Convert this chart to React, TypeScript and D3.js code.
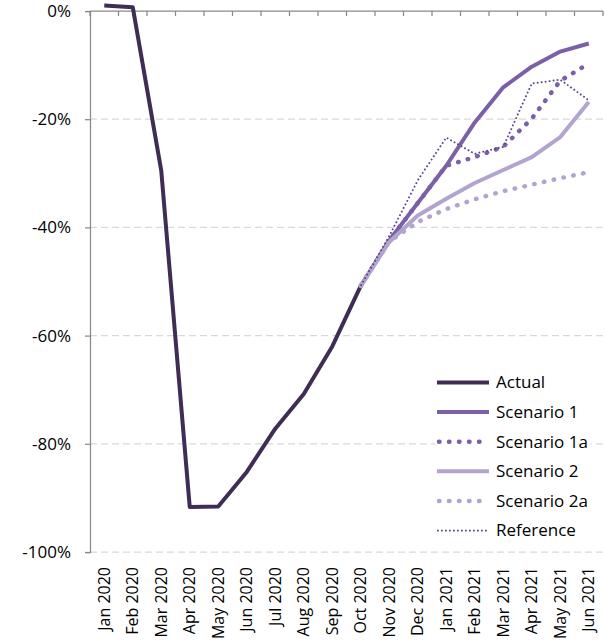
import React, { useRef, useEffect } from 'react';
import * as d3 from 'd3';

const months = [
  'Jan 2020', 'Feb 2020', 'Mar 2020', 'Apr 2020', 'May 2020', 'Jun 2020',
  'Jul 2020', 'Aug 2020', 'Sep 2020', 'Oct 2020', 'Nov 2020', 'Dec 2020',
  'Jan 2021', 'Feb 2021', 'Mar 2021', 'Apr 2021', 'May 2021', 'Jun 2021',
];

const actual = [1.0, 0.7, -29.5, -91.7, -91.6, -85.2, -77.2, -70.8, -62.0, -50.8, null, null, null, null, null, null, null, null];
const scenario1 = [null, null, null, null, null, null, null, null, null, -50.8, -42.4, -35.5, -28.6, -20.6, -14.1, -10.3, -7.5, -6.0];
const scenario1a = [null, null, null, null, null, null, null, null, null, -50.8, -42.4, -35.5, -28.6, -27.0, -25.1, -19.9, -12.9, -9.7];
const scenario2 = [null, null, null, null, null, null, null, null, null, -50.8, -42.7, -37.8, -34.7, -31.8, -29.4, -27.0, -23.3, -16.8];
const scenario2a = [null, null, null, null, null, null, null, null, null, -50.8, -42.6, -39.0, -36.6, -34.8, -33.3, -32.1, -30.9, -29.8];
const reference = [null, null, null, null, null, null, null, null, null, -50.8, -41.6, -31.3, -23.4, -26.4, -25.1, -13.4, -12.7, -16.5];

const yTicks = [0, -20, -40, -60, -80, -100];

const seriesList = [
  { name: 'Actual', values: actual, color: '#3f2d56', width: 4, dash: null, cap: 'butt' },
  { name: 'Scenario 1', values: scenario1, color: '#7b60a8', width: 4, dash: null, cap: 'butt' },
  { name: 'Scenario 1a', values: scenario1a, color: '#7b60a8', width: 4.5, dash: '0.5 9.5', cap: 'round' },
  { name: 'Scenario 2', values: scenario2, color: '#b3a3cf', width: 4, dash: null, cap: 'butt' },
  { name: 'Scenario 2a', values: scenario2a, color: '#b3a3cf', width: 4.5, dash: '0.5 9.5', cap: 'round' },
  { name: 'Reference', values: reference, color: '#5b4585', width: 1.75, dash: '1.75 2.25', cap: 'butt' },
];

const W = 605;
const H = 643;
const FONT = "'Open Sans', sans-serif";

const App: React.FC = () => {
  const svgRef = useRef<SVGSVGElement>(null);

  useEffect(() => {
    if (!svgRef.current) return;
    const svg = d3.select(svgRef.current);
    svg.selectAll('*').remove();

    const left = 90, right = 603, top = 11, bottom = 552;

    const x = d3.scaleBand().domain(months).range([left, right]).padding(0);
    const cx = (m: string) => (x(m) as number) + x.bandwidth() / 2;
    const y = d3.scaleLinear().domain([-100, 0]).range([bottom, top]);

    // gridlines
    svg.append('g')
      .selectAll('line')
      .data(yTicks.filter(t => t !== 0))
      .join('line')
      .attr('x1', left)
      .attr('x2', right)
      .attr('y1', d => y(d))
      .attr('y2', d => y(d))
      .attr('stroke', '#d9d9d9')
      .attr('stroke-width', 1.25)
      .attr('stroke-dasharray', '7 4');

    // y axis
    const yAxis = svg.append('g').attr('transform', `translate(${left},0)`)
      .call(d3.axisLeft(y).tickValues(yTicks).tickSize(5).tickFormat(d => `${d}%`));
    yAxis.select('.domain').attr('stroke', '#898989').attr('stroke-width', 1.25);
    yAxis.selectAll('.tick line').attr('stroke', '#898989').attr('stroke-width', 1.25);
    yAxis.selectAll('.tick text')
      .attr('x', -19)
      .attr('font-family', FONT)
      .attr('font-size', 17)
      .attr('fill', '#000');

    // x axis line at 0% with ticks on band edges
    svg.append('line')
      .attr('x1', left).attr('x2', right)
      .attr('y1', y(0)).attr('y2', y(0))
      .attr('stroke', '#898989').attr('stroke-width', 1.25);
    const edges = months.map(m => x(m) as number).concat([right]);
    svg.append('g')
      .selectAll('line')
      .data(edges)
      .join('line')
      .attr('x1', d => d).attr('x2', d => d)
      .attr('y1', y(0)).attr('y2', y(0) + 5)
      .attr('stroke', '#898989').attr('stroke-width', 1.25);

    // x labels at bottom, rotated
    svg.append('g')
      .selectAll('text')
      .data(months)
      .join('text')
      .attr('transform', d => `translate(${cx(d)},${bottom + 15}) rotate(-90)`)
      .attr('text-anchor', 'end')
      .attr('dy', '0.35em')
      .attr('font-family', FONT)
      .attr('font-size', 16)
      .attr('fill', '#000')
      .text(d => d);

    // series
    const line = d3.line<number | null>()
      .defined(d => d !== null)
      .x((_, i) => cx(months[i]))
      .y(d => y(d as number));

    svg.append('g')
      .selectAll('path')
      .data(seriesList)
      .join('path')
      .attr('d', s => line(s.values))
      .attr('fill', 'none')
      .attr('stroke', s => s.color)
      .attr('stroke-width', s => s.width)
      .attr('stroke-dasharray', s => s.dash)
      .attr('stroke-linecap', s => s.cap)
      .attr('stroke-linejoin', 'round');

    // legend
    const lg = svg.append('g');
    lg.append('rect')
      .attr('x', 435).attr('y', 368)
      .attr('width', 156).attr('height', 176)
      .attr('fill', '#fff');
    const rowY = (i: number) => 382.5 + i * 29.6;
    const rows = lg.selectAll('g.row')
      .data(seriesList)
      .join('g')
      .attr('class', 'row')
      .attr('transform', (_, i) => `translate(0,${rowY(i)})`);
    rows.append('line')
      .attr('x1', s => (s.cap === 'round' ? 439 : 437))
      .attr('x2', 489)
      .attr('y1', 0).attr('y2', 0)
      .attr('stroke', s => s.color)
      .attr('stroke-width', s => s.width)
      .attr('stroke-dasharray', s => s.dash)
      .attr('stroke-linecap', s => s.cap);
    rows.append('text')
      .attr('x', 496)
      .attr('dy', '0.35em')
      .attr('font-family', FONT)
      .attr('font-size', 17)
      .attr('fill', '#000')
      .text(s => s.name);
  }, []);

  return (
    <svg
      ref={svgRef}
      width={W}
      height={H}
      style={{ position: 'absolute', left: 0, top: 0, background: '#fff' }}
    />
  );
};

export default App;
